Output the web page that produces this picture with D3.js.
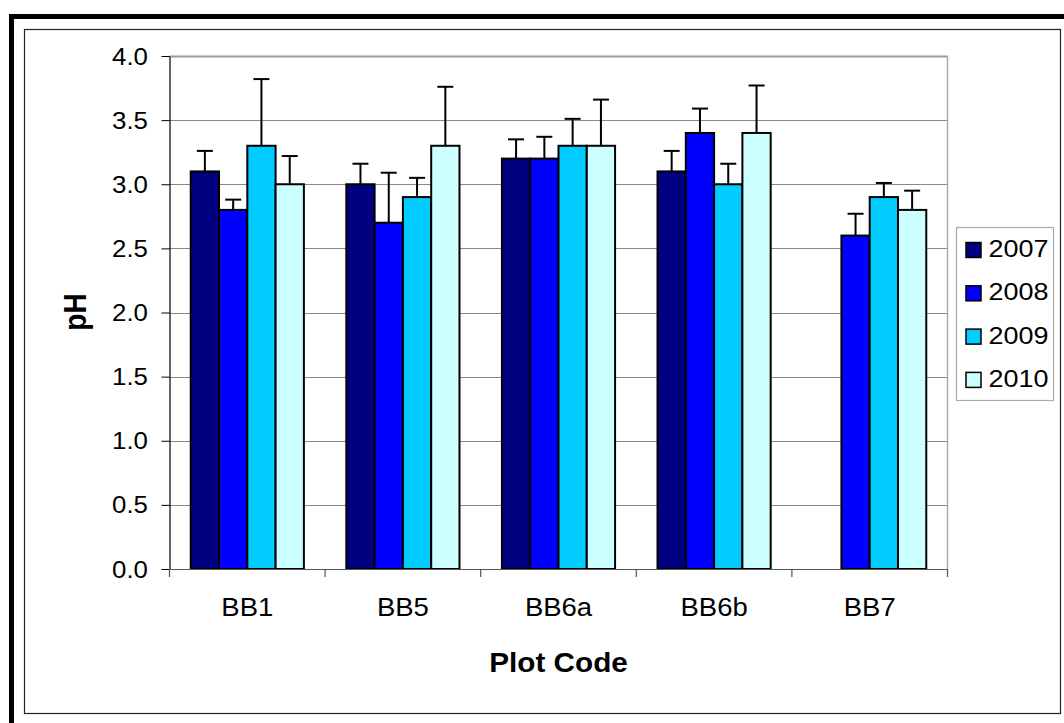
<!DOCTYPE html>
<html><head><meta charset="utf-8">
<script src="https://cdn.jsdelivr.net/npm/d3@7"></script>
<style>body{margin:0;background:#fff}svg{display:block}text{font-family:"Liberation Sans",Arial,sans-serif;fill:#000}</style>
</head><body><svg id="c" width="1064" height="723"></svg>
<script>
const categories = ["BB1","BB5","BB6a","BB6b","BB7"];
const years = ["2007","2008","2009","2010"];
const colors = ["#000080","#0000FF","#00CCFF","#CCFFFF"];
const v2007 = [3.1, 3.0, 3.2, 3.1, null];
const v2008 = [2.8, 2.7, 3.2, 3.4, 2.6];
const v2009 = [3.3, 2.9, 3.3, 3.0, 2.9];
const v2010 = [3.0, 3.3, 3.3, 3.4, 2.8];
const e2007 = [0.16, 0.16, 0.15, 0.16, null];
const e2008 = [0.08, 0.39, 0.17, 0.19, 0.17];
const e2009 = [0.52, 0.15, 0.21, 0.16, 0.11];
const e2010 = [0.22, 0.46, 0.36, 0.37, 0.15];
const yTicks = [0,0.5,1,1.5,2,2.5,3,3.5,4];

const values = [v2007, v2008, v2009, v2010];
const errs = [e2007, e2008, e2009, e2010];
const svg = d3.select("#c");
const SX = 1.1;

function label(g, x, y, txt, size, anchor, bold, rot){
  return g.append("text")
    .attr("transform", `translate(${x},${y}) scale(${SX},1)` + (rot ? ` rotate(${rot})` : ""))
    .attr("text-anchor", anchor).attr("font-size", size)
    .attr("font-weight", bold ? "bold" : "normal").text(txt);
}

// frames
svg.append("rect").attr("x",11.5).attr("y",16.5).attr("width",1100).attr("height",800)
  .attr("fill","none").attr("stroke","#000").attr("stroke-width",5);
svg.append("rect").attr("x",24.5).attr("y",29.5).attr("width",1036).attr("height",684)
  .attr("fill","#fff").attr("stroke","#222").attr("stroke-width",1.2);

const L=169.5, R=947.5, T=56, B=569;
const x = d3.scaleBand().domain(categories).range([L,R]);
const bw = x.bandwidth()/5.5;
const xi = d3.scaleBand().domain(years).range([bw*0.75, bw*4.75]);
const y = d3.scaleLinear().domain([0,4]).range([B,T]);

// gridlines
svg.append("g").selectAll("line").data(yTicks.filter(d=>d>0)).join("line")
  .attr("x1",L).attr("x2",R).attr("y1",d=>Math.round(y(d))+0.5).attr("y2",d=>Math.round(y(d))+0.5)
  .attr("stroke",d=>d===4?"#999":"#888").attr("stroke-width",d=>d===4?2:1);
svg.append("line").attr("x1",R).attr("x2",R).attr("y1",T).attr("y2",B).attr("stroke","#aaa").attr("stroke-width",1.5);

// bars
years.forEach((yr,i)=>{
  const data = categories.map((c,j)=>({c, v:values[i][j], e:errs[i][j]})).filter(d=>d.v!=null);
  const g = svg.append("g");
  g.selectAll("rect").data(data).join("rect")
    .attr("x",d=>x(d.c)+xi(yr)).attr("y",d=>y(d.v)).attr("width",xi.bandwidth()).attr("height",d=>y(0)-y(d.v))
    .attr("fill",colors[i]).attr("stroke","#000").attr("stroke-width",2);
  const eg = g.selectAll("g").data(data).join("g");
  eg.append("line").attr("x1",d=>x(d.c)+xi(yr)+xi.bandwidth()/2).attr("x2",d=>x(d.c)+xi(yr)+xi.bandwidth()/2)
    .attr("y1",d=>y(d.v)).attr("y2",d=>y(d.v+d.e)).attr("stroke","#000").attr("stroke-width",2);
  eg.append("line").attr("x1",d=>x(d.c)+xi(yr)+xi.bandwidth()/2-8).attr("x2",d=>x(d.c)+xi(yr)+xi.bandwidth()/2+8)
    .attr("y1",d=>y(d.v+d.e)).attr("y2",d=>y(d.v+d.e)).attr("stroke","#000").attr("stroke-width",2);
});

// y axis
const ya = svg.append("g").attr("transform",`translate(${L},0)`)
  .call(d3.axisLeft(y).tickValues(yTicks).tickFormat(d3.format(".1f")).tickSize(8).tickSizeOuter(0));
ya.select(".domain").attr("stroke","#000").attr("stroke-width",1.2);
ya.selectAll(".tick line").attr("stroke","#000");
ya.selectAll(".tick text").remove();
const yl = svg.append("g");
yTicks.forEach(t=>label(yl, 148, y(t)+8.5, d3.format(".1f")(t), 23.5, "end"));

// x axis
const xa = svg.append("g").attr("transform",`translate(0,${B})`)
  .call(d3.axisBottom(x).tickSize(0).tickSizeOuter(0));
xa.select(".domain").attr("stroke","#555").attr("stroke-width",1.2);
xa.selectAll(".tick text").remove();
const edges = categories.map(c=>x(c)).concat([R]);
svg.append("g").selectAll("line").data(edges).join("line")
  .attr("x1",d=>d).attr("x2",d=>d).attr("y1",B).attr("y2",B+8).attr("stroke","#555").attr("stroke-width",1.2);
const xl = svg.append("g");
categories.forEach(c=>label(xl, x(c)+x.bandwidth()/2, 616, c, 25, "middle"));

// titles
label(svg, (L+R)/2, 671.5, "Plot Code", 27, "middle", true);
label(svg, 85.5, 312, "pH", 28, "middle", true, -90);

// legend
svg.append("rect").attr("x",956.5).attr("y",227.5).attr("width",97).attr("height",173)
  .attr("fill","#fff").attr("stroke","#aaa").attr("stroke-width",1.2);
const lg = svg.append("g");
years.forEach((yr,i)=>{
  const cy = 250 + i*43.3;
  lg.append("rect").attr("x",966).attr("y",cy-7.5).attr("width",15).attr("height",15)
    .attr("fill",colors[i]).attr("stroke","#000").attr("stroke-width",1.5);
  label(lg, 988.5, cy+7, yr, 24.5, "start");
});
</script></body></html>
